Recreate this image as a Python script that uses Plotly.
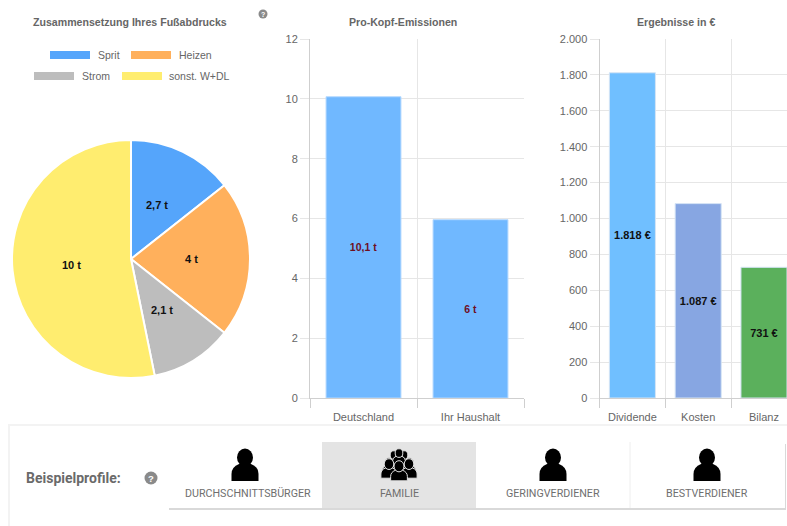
import math

import plotly.graph_objects as go

# Daten
pie_labels = ["Sprit", "Heizen", "Strom", "sonst. W+DL"]
pie_values = [2.7, 4, 2.1, 10]
pie_text = ["2,7 t", "4 t", "2,1 t", "10 t"]
pie_colors = ["#55a5fb", "#ffb05c", "#bdbdbd", "#ffed6f"]

kopf_kategorien = ["Deutschland", "Ihr Haushalt"]
kopf_werte = [10.07, 5.96]
kopf_text = ["10,1 t", "6 t"]
kopf_ticks = [0, 2, 4, 6, 8, 10, 12]

ergebnis_kategorien = ["Dividende", "Kosten", "Bilanz"]
ergebnis_werte = [1812, 1083, 728]
ergebnis_text = ["1.818 €", "1.087 €", "731 €"]
ergebnis_farben = ["#70bfff", "#87a6e2", "#5bb05c"]
ergebnis_ticks = [0, 200, 400, 600, 800, 1000, 1200, 1400, 1600, 1800, 2000]
ergebnis_ticktext = ["0", "200", "400", "600", "800", "1.000", "1.200", "1.400", "1.600", "1.800", "2.000"]

profile = ["DURCHSCHNITTSBÜRGER", "FAMILIE", "GERINGVERDIENER", "BESTVERDIENER"]

W, H = 787, 526
GRAU = "#666666"
ACHSE = "#cfcfcf"
GITTER = "#e6e6e6"
FONT = "Liberation Sans, Arial, sans-serif"


def px(x):
    return x / W


def py(y):
    return 1 - y / H


fig = go.Figure()

fig.add_trace(go.Pie(
    labels=pie_labels, values=pie_values, textinfo="none",
    sort=False, direction="clockwise", rotation=0,
    marker=dict(colors=pie_colors, line=dict(color="white", width=2)),
    domain=dict(x=[px(12), px(250)], y=[py(378), py(140)]),
    showlegend=False,
))

fig.add_trace(go.Bar(
    x=kopf_kategorien, y=kopf_werte, text=kopf_text, width=0.7,
    marker=dict(color="#70b8ff", line=dict(color="#b5d9ff", width=1)),
    textposition="inside", insidetextanchor="middle", textangle=0,
    textfont=dict(family=FONT, size=10.5, color="#6e0f1f", weight="bold"),
    xaxis="x", yaxis="y", showlegend=False,
))

fig.add_trace(go.Bar(
    x=ergebnis_kategorien, y=ergebnis_werte, text=ergebnis_text, width=0.7,
    marker=dict(color=ergebnis_farben, line=dict(color="#d5e4f5", width=1)),
    textposition="inside", insidetextanchor="middle", textangle=0,
    textfont=dict(family=FONT, size=11, color="#111111", weight="bold"),
    xaxis="x2", yaxis="y2", showlegend=False,
))

achse_x = dict(type="category", tickson="boundaries", ticks="outside", ticklen=9,
               ticklabelstandoff=9, tickcolor=ACHSE, gridcolor=GITTER, showgrid=True, showline=True,
               linecolor=ACHSE, tickfont=dict(family=FONT, size=11, color=GRAU))
achse_y = dict(ticks="outside", ticklen=9, tickcolor=GITTER, gridcolor=GITTER,
               showline=True, linecolor=ACHSE, zeroline=False,
               tickfont=dict(family=FONT, size=11, color=GRAU))

fig.update_layout(
    width=W, height=H, margin=dict(l=0, r=0, t=0, b=0, pad=0, autoexpand=False),
    paper_bgcolor="white", plot_bgcolor="white",
    xaxis=dict(achse_x, domain=[px(310), px(524)], range=[-0.5, 1.5], anchor="y"),
    yaxis=dict(achse_y, domain=[py(398), py(39)], range=[0, 12], tickvals=kopf_ticks, anchor="x"),
    xaxis2=dict(achse_x, domain=[px(599.5), 1], range=[-0.5, 2.35], anchor="y2"),
    yaxis2=dict(achse_y, domain=[py(398), py(39)], range=[0, 2000],
                tickvals=ergebnis_ticks, ticktext=ergebnis_ticktext, anchor="x2"),
    hovermode=False,
)

shapes = []
annotations = []


def rechteck(x0, y0, x1, y1, farbe):
    shapes.append(dict(type="rect", xref="paper", yref="paper", x0=px(x0), y0=py(y0), x1=px(x1), y1=py(y1),
                       fillcolor=farbe, line=dict(width=0)))


def text(x, y, s, size, farbe=GRAU, fett=False, family=FONT, anker="center"):
    annotations.append(dict(xref="paper", yref="paper", x=px(x), y=py(y), text=s, showarrow=False,
                            xanchor=anker, yanchor="middle", borderpad=0,
                            font=dict(family=family, size=size, color=farbe,
                                      weight="bold" if fett else "normal")))


def fragezeichen(x, y, r, size):
    shapes.append(dict(type="circle", xref="paper", yref="paper",
                       x0=px(x - r), y0=py(y - r), x1=px(x + r), y1=py(y + r),
                       fillcolor="#8a8a8a", line=dict(width=0)))
    text(x, y, "?", size, "white", True)


def person(cx, top, s=1.0, farbe="black", rand=None):
    # Kopf und Schultern, Masse aus dem Bild geschaetzt
    linie = dict(color=rand, width=1) if rand else dict(width=0)
    b = top + 32 * s
    pfad = (f"M {px(cx - 13.5 * s)} {py(b)} L {px(cx - 13.5 * s)} {py(b - 7 * s)} "
            f"Q {px(cx - 13.5 * s)} {py(b - 14 * s)} {px(cx - 6 * s)} {py(b - 17 * s)} "
            f"L {px(cx + 6 * s)} {py(b - 17 * s)} "
            f"Q {px(cx + 13.5 * s)} {py(b - 14 * s)} {px(cx + 13.5 * s)} {py(b - 7 * s)} "
            f"L {px(cx + 13.5 * s)} {py(b)} Z")
    shapes.append(dict(type="path", xref="paper", yref="paper", path=pfad, fillcolor=farbe, line=linie))
    r = 8 * s
    hy = top + 8.5 * s
    shapes.append(dict(type="circle", xref="paper", yref="paper", x0=px(cx - r), y0=py(hy - 9 * s),
                       x1=px(cx + r), y1=py(hy + 9 * s), fillcolor=farbe, line=linie))


# Titel
text(130, 22, "Zusammensetzung Ihres Fußabdrucks", 10.6, fett=True)
text(403, 22, "Pro-Kopf-Emissionen", 10.6, fett=True)
text(676, 22, "Ergebnisse in €", 10.6, fett=True)
fragezeichen(263, 14, 4.5, 7)

# Legende
legende = [(50, 55, 0, 97), (131, 55, 1, 178), (34, 76, 2, 81), (122, 76, 3, 168)]
for x0, y0, i, tx in legende:
    rechteck(x0, y0 - 4, x0 + 40, y0 + 4, pie_colors[i])
    text(tx, y0, pie_labels[i], 10.5, anker="left")

# Tortenbeschriftung auf halbem Radius der Sektormitte
summe = sum(pie_values)
kumuliert = 0
for wert, beschriftung in zip(pie_values, pie_text):
    winkel = (kumuliert + wert / 2) / summe * 2 * math.pi
    text(131 + 60 * math.sin(winkel), 259 - 60 * math.cos(winkel), beschriftung, 11, "#111111", True)
    kumuliert += wert

# Profilleiste
rechteck(8, 424, W, H, "#f3f3f3")
rechteck(10, 426, W, H, "white")
text(25, 478, "Beispielprofile:", 14, "#6a6a6a", True, "Roboto, sans-serif", "left")
fragezeichen(151, 478, 6.5, 9.5)

rechteck(169, 444, 786, 510, "#d9d9d9")
rechteck(168.5, 442, 785, 508, "white")
rechteck(322, 442, 476, 508, "#e4e4e4")
shapes.append(dict(type="line", xref="paper", yref="paper", x0=px(630), x1=px(630), y0=py(442), y1=py(508),
                   line=dict(color="#eeeeee", width=1)))

for i, name in enumerate(profile):
    mitte = [248, 399, 553, 707][i]
    text(mitte, 493, name, 10.7, "#6f6f6f", False, "Roboto, sans-serif")
person(245, 449)
person(553, 449)
person(707, 449)
# Familie: Gruppe aus kleineren Figuren
for dx, top in [(-10, 458), (10, 458), (-5, 451), (5, 451), (0, 449)]:
    person(399 + dx, top, 0.48, rand="#e4e4e4")
for dx in (-10, 10):
    person(399 + dx, 459, 0.6, rand="#e4e4e4")
person(399, 461, 0.62, rand="#e4e4e4")

fig.update_layout(shapes=shapes, annotations=annotations)

fig.write_html("out.html", post_script="document.body.style.margin='0';",
               config={"displayModeBar": False})
